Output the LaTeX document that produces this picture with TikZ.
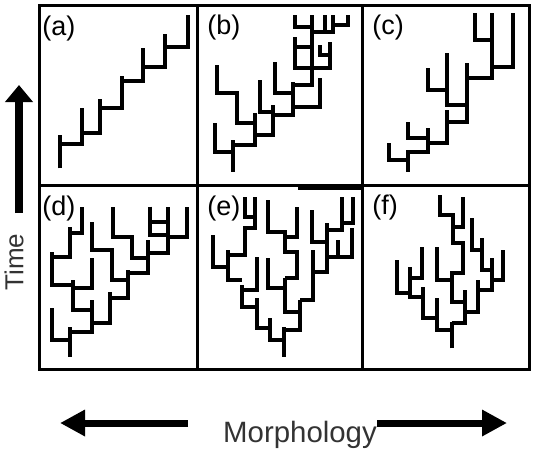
\documentclass[tikz,border=0pt]{standalone}
\usepackage{fontspec}
\setmainfont{Liberation Sans}
\usetikzlibrary{arrows.meta}

\begin{document}
\begin{tikzpicture}[x=0.5pt,y=-0.5pt,
    branch/.style={line width=1.9pt},
    panel/.style={line width=1.5pt},
    tag/.style={font=\fontsize{13.5}{15}\selectfont, inner sep=0pt, anchor=west},
    axislbl/.style={font=\fontsize{14.7}{17}\selectfont, text=black!80, inner sep=0pt}]
  \useasboundingbox (0,0) rectangle (533,450);

  % Panel grid
  \draw[panel] (39,5) rectangle (529,369);
  \draw[panel] (197,5) -- (197,369);
  \draw[panel] (362,5) -- (362,369);
  \draw[panel] (39,185) -- (529,185);
  \draw[line width=3pt] (298,187) -- (362,187);

  % Panel tags
  \node[tag] (taga) at (42,29) {(a)};
  \node[tag] (tagb) at (207,28) {(b)};
  \node[tag] (tagc) at (372,28) {(c)};
  \node[tag] (tagd) at (42,209) {(d)};
  \node[tag] (tage) at (207,209) {(e)};
  \node[tag] (tagf) at (372,208) {(f)};

  % (a) one lineage, steady climb
  \begin{scope}[shift={(30,0)},scale=1/3]
    \draw[branch] (90,505) -- (90,405);
    \draw[branch] (90,432) -- (155,432) -- (155,325);
    \draw[branch] (155,400) -- (210,400) -- (210,297);
    \draw[branch] (210,325) -- (275,325) -- (275,228);
    \draw[branch] (275,243) -- (340,243) -- (340,143);
    \draw[branch] (340,200) -- (405,200) -- (405,103);
    \draw[branch] (405,140) -- (475,140) -- (475,45);
  \end{scope}

  % (b)
  \begin{scope}[shift={(205,5)},scale=1/3]
    \draw[branch] (85,500) -- (85,405);
    \draw[branch] (85,440) -- (30,440) -- (30,355);
    \draw[branch] (85,420) -- (150,420) -- (150,325);
    \draw[branch] (150,355) -- (95,355) -- (95,265) -- (35,265) -- (35,180);
    \draw[branch] (150,390) -- (205,390) -- (205,300);
    \draw[branch] (205,320) -- (165,320) -- (165,225);
    \draw[branch] (205,330) -- (265,330) -- (265,230);
    \draw[branch] (265,305) -- (345,305) -- (345,220);
    \draw[branch] (265,265) -- (210,265) -- (210,170);
    \draw[branch] (265,240) -- (320,240) -- (320,30);
    \draw[branch] (320,190) -- (270,190) -- (270,95);
    \draw[branch] (320,125) -- (270,125);
    \draw[branch] (320,190) -- (375,190) -- (375,110);
    \draw[branch] (375,150) -- (345,150) -- (345,120);
    \draw[branch] (320,65) -- (270,65) -- (270,30);
    \draw[branch] (320,80) -- (385,80) -- (385,30);
    \draw[branch] (385,60) -- (430,60) -- (430,30);
    \draw[branch] (360,80) -- (360,30);
  \end{scope}

  % (c)
  \begin{scope}[shift={(360,0)},scale=1/3]
    \draw[branch] (145,515) -- (145,455) -- (205,455) -- (205,385);
    \draw[branch] (145,480) -- (88,480) -- (88,430);
    \draw[branch] (205,415) -- (145,415) -- (145,365);
    \draw[branch] (205,430) -- (262,430) -- (262,330);
    \draw[branch] (262,365) -- (320,365) -- (320,190);
    \draw[branch] (320,315) -- (262,315) -- (262,160);
    \draw[branch] (262,270) -- (205,270) -- (205,205);
    \draw[branch] (320,235) -- (395,235) -- (395,40);
    \draw[branch] (395,120) -- (345,120) -- (345,40);
    \draw[branch] (395,200) -- (460,200) -- (460,40);
  \end{scope}

  % (d)
  \begin{scope}[shift={(40,190)},scale=1/3]
    \draw[branch] (90,500) -- (90,410);
    \draw[branch] (90,450) -- (35,450) -- (35,355);
    \draw[branch] (90,425) -- (155,425) -- (155,330);
    \draw[branch] (155,400) -- (210,400) -- (210,305);
    \draw[branch] (155,360) -- (100,360) -- (100,270);
    \draw[branch] (100,285) -- (35,285) -- (35,185);
    \draw[branch] (100,295) -- (155,295) -- (155,205);
    \draw[branch] (35,200) -- (90,200) -- (90,110);
    \draw[branch] (90,130) -- (125,130) -- (125,50);
    \draw[branch] (210,325) -- (265,325) -- (265,240);
    \draw[branch] (265,270) -- (215,270) -- (215,180) -- (155,180) -- (155,95);
    \draw[branch] (265,250) -- (325,250) -- (325,150);
    \draw[branch] (325,205) -- (275,205) -- (275,140) -- (220,140) -- (220,50);
    \draw[branch] (325,190) -- (385,190) -- (385,50);
    \draw[branch] (385,140) -- (440,140) -- (440,50);
    \draw[branch] (330,50) -- (330,135) -- (385,135);
    \draw[branch] (330,95) -- (385,95);
  \end{scope}

  % (e)
  \begin{scope}[shift={(205,190)},scale=1/3]
    \draw[branch] (237,500) -- (237,410);
    \draw[branch] (237,450) -- (195,450) -- (195,385);
    \draw[branch] (195,415) -- (155,415) -- (155,325);
    \draw[branch] (155,350) -- (110,350) -- (110,285);
    \draw[branch] (110,270) -- (70,270) -- (70,180);
    \draw[branch] (70,230) -- (25,230) -- (25,135);
    \draw[branch] (70,195) -- (120,195) -- (120,115) -- (150,115) -- (150,20);
    \draw[branch] (150,80) -- (120,80) -- (120,20);
    \draw[branch] (110,300) -- (155,300) -- (155,200);
    \draw[branch] (237,420) -- (285,420) -- (285,330);
    \draw[branch] (285,365) -- (240,365) -- (240,265);
    \draw[branch] (240,295) -- (190,295) -- (190,205);
    \draw[branch] (240,265) -- (275,265) -- (275,185) -- (240,185) -- (240,125) -- (190,125) -- (190,30);
    \draw[branch] (240,140) -- (275,140) -- (275,50);
    \draw[branch] (285,330) -- (325,330) -- (325,180);
    \draw[branch] (325,245) -- (365,245) -- (365,100);
    \draw[branch] (365,155) -- (320,155) -- (320,60);
    \draw[branch] (365,200) -- (440,200) -- (440,115);
    \draw[branch] (400,200) -- (400,150);
    \draw[branch] (365,120) -- (410,120) -- (410,20);
    \draw[branch] (410,100) -- (445,100) -- (445,20);
  \end{scope}

  % (f)
  \begin{scope}[shift={(385,190)},scale=1/3]
    \draw[branch] (200,475) -- (200,395);
    \draw[branch] (200,420) -- (155,420) -- (155,325);
    \draw[branch] (155,385) -- (115,385) -- (115,290);
    \draw[branch] (115,320) -- (75,320) -- (75,230);
    \draw[branch] (75,310) -- (35,310) -- (35,210);
    \draw[branch] (75,265) -- (110,265) -- (110,170);
    \draw[branch] (200,400) -- (240,400) -- (240,300);
    \draw[branch] (240,365) -- (280,365) -- (280,270);
    \draw[branch] (280,300) -- (320,300) -- (320,205);
    \draw[branch] (320,270) -- (355,270) -- (355,180);
    \draw[branch] (320,240) -- (290,240) -- (290,145);
    \draw[branch] (290,180) -- (260,180) -- (260,85);
    \draw[branch] (240,335) -- (200,335) -- (200,250) -- (235,250) -- (235,160) -- (205,160) -- (205,75) -- (165,75) -- (165,15);
    \draw[branch] (200,270) -- (155,270) -- (155,170);
    \draw[branch] (205,110) -- (235,110) -- (235,20);
  \end{scope}

  % Time axis
  \coordinate (tlow) at (19,213);
  \coordinate (thigh) at (19,85);
  \draw[line width=4pt,-{Triangle[length=8.5pt,width=13.5pt]}] (tlow) -- (thigh);
  \node[axislbl, rotate=90, font=\fontsize{13}{15}\selectfont] (timelbl) at (14,262) {Time};

  % Morphology axis
  \node[axislbl] (morphlbl) at (300,435) {Morphology};
  \coordinate (mlin) at (188,423);
  \coordinate (mltip) at (60,423);
  \coordinate (mrin) at (377,423);
  \coordinate (mrtip) at (507,423);
  \draw[line width=3.5pt,-{Triangle[length=12.5pt,width=12.5pt]}] (mlin) -- (mltip);
  \draw[line width=3.5pt,-{Triangle[length=12.5pt,width=12.5pt]}] (mrin) -- (mrtip);
\end{tikzpicture}
\end{document}
